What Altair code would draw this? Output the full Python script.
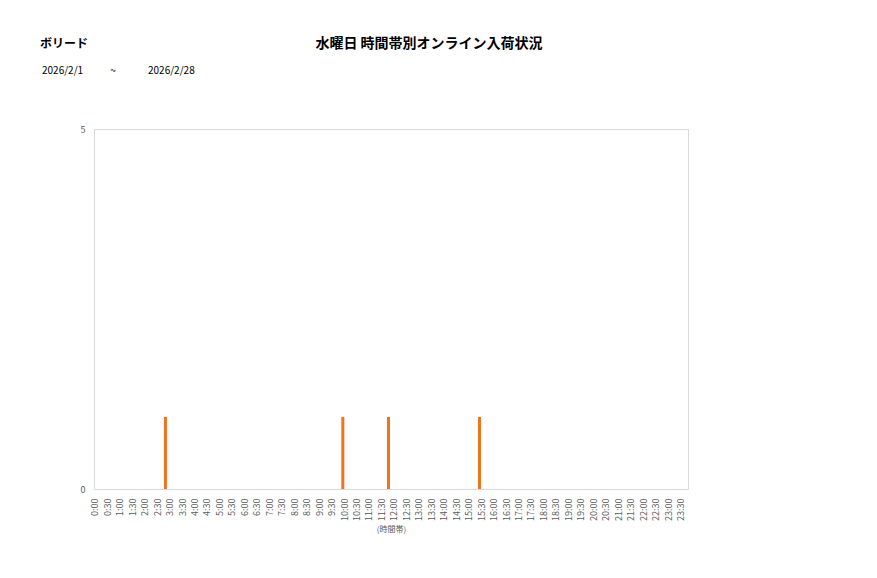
import altair as alt
import pandas as pd

# data
arrival_times = ["2:50", "9:57", "11:47", "15:26"]
arrival_counts = [1, 1, 1, 1]
tick_minutes = list(range(0, 1440, 30))

store_name = "ボリード"
chart_title = "水曜日 時間帯別オンライン入荷状況"
date_from = "2026/2/1"
date_to = "2026/2/28"
x_title = "(時間帯)"

FONT = "Noto Sans CJK JP"

def to_min(s):
    h, m = s.split(":")
    return int(h) * 60 + int(m)

df = pd.DataFrame({
    "time": arrival_times,
    "minute": [to_min(t) for t in arrival_times],
    "count": arrival_counts,
})

label_expr = "floor(datum.value / 60) + ':' + (datum.value % 60 == 0 ? '00' : '30')"

x_enc = alt.X(
    "minute:Q",
    scale=alt.Scale(domain=[-2, 1428], nice=False, zero=False),
    axis=alt.Axis(
        values=tick_minutes,
        labelExpr=label_expr,
        labelAngle=-90,
        labelAlign="right",
        labelBaseline="middle",
        labelFontSize=9,
        labelColor="#595959",
        labelFont=FONT,
        labelPadding=9,
        labelOverlap=False,
        ticks=False,
        domain=False,
        grid=False,
        title=x_title,
        titleFont=FONT,
        titleFontSize=8,
        titleFontWeight="normal",
        titleColor="#595959",
        titlePadding=5,
    ),
)
y_enc = alt.Y(
    "count:Q",
    scale=alt.Scale(domain=[0, 5], nice=False),
    axis=alt.Axis(
        values=[0, 5],
        labelFontSize=9,
        labelColor="#595959",
        labelFont=FONT,
        labelPadding=9,
        ticks=False,
        domain=False,
        grid=False,
        title=None,
    ),
)

bars = alt.Chart(df).mark_rule(color="#F4711E", strokeWidth=3).encode(
    x=x_enc,
    y=y_enc,
    y2=alt.datum(0),
)

def label(text, x, y, size, weight="normal", align="left"):
    return alt.Chart(pd.DataFrame({"t": [text]})).mark_text(
        font=FONT, fontSize=size, fontWeight=weight, align=align,
        baseline="middle", color="#000000",
    ).encode(text="t:N", x=alt.value(x), y=alt.value(y))

annotations = [
    label(store_name, -54, -85, 12, "bold"),
    label(chart_title, 335, -85, 14, "bold", "center"),
    label(date_from, -52, -58, 10),
    label("~", 19, -58, 10, "normal", "center"),
    label(date_to, 54, -58, 10),
]

chart = alt.layer(bars, *annotations).properties(
    width=594,
    height=360,
    autosize=alt.AutoSizeParams(type="none"),
    padding={"left": 86, "top": 121, "right": 150, "bottom": 70},
    background="white",
).configure_view(
    stroke="#d9d9d9",
    strokeWidth=1,
)

chart.save("out.html", embed_options={"renderer": "svg", "actions": False})
